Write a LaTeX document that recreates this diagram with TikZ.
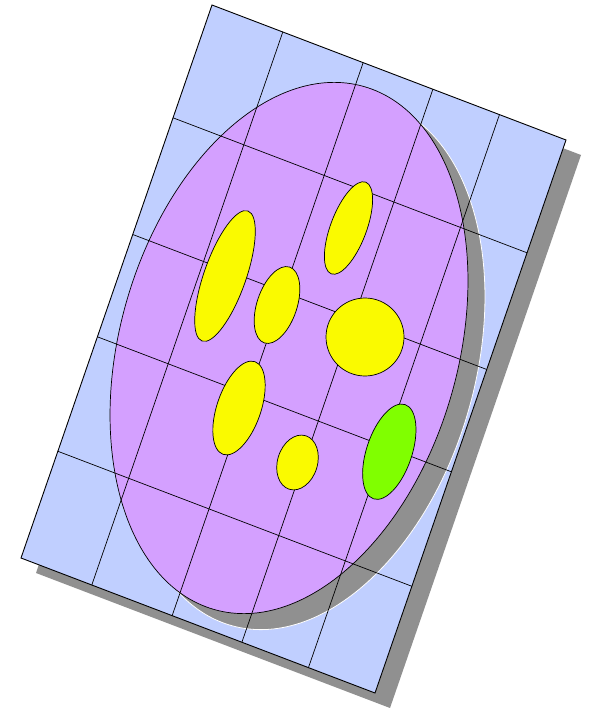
\documentclass[tikz,border=0pt]{standalone}
\usetikzlibrary{calc}
\definecolor{plateblue}{RGB}{192,207,255}
\definecolor{dishpurple}{RGB}{212,160,255}
\definecolor{shadowgray}{RGB}{144,144,144}
\definecolor{yel}{RGB}{250,250,0}
\definecolor{grn}{RGB}{128,255,0}
\begin{document}
\begin{tikzpicture}[x=1pt,y=-1pt,
  gridline/.style={black, line width=0.7pt},
  blob/.style={draw=black, line width=0.7pt, fill=yel}]
\useasboundingbox (0,0) rectangle (588,708);
\coordinate (TL) at (212,5);
\coordinate (TR) at (566,140);
\coordinate (BR) at (375,693);
\coordinate (BL) at (21,558);
% plate shadow
\fill[shadowgray] ($(TL)+(15,15)$) -- ($(TR)+(15,15)$) -- ($(BR)+(15,15)$) -- ($(BL)+(15,15)$) -- cycle;
% plate
\draw[fill=plateblue, line width=0.9pt] (TL) -- (TR) -- (BR) -- (BL) -- cycle;
% dish shadow
\draw[white, fill=shadowgray, line width=0.8pt, rotate around={-16:(306,364)}] (306,364) ellipse [x radius=169pt, y radius=272pt];
% dish
\draw[fill=dishpurple, line width=0.7pt, rotate around={-16:(289,348)}] (289,348) ellipse [x radius=169pt, y radius=272pt];
% grid
\foreach \t in {0.2,0.427,0.624,0.812}
  \draw[gridline] ($(TL)!\t!(TR)$) -- ($(BL)!\t!(BR)$);
\foreach \s in {0.204,0.415,0.6,0.807}
  \draw[gridline] ($(TL)!\s!(BL)$) -- ($(TR)!\s!(BR)$);
% colonies
\draw[blob, rotate around={-19.4:(225,276)}] (225,276) ellipse [x radius=21pt, y radius=69pt];
\draw[blob, rotate around={-18.5:(277,305)}] (277,305) ellipse [x radius=20pt, y radius=40pt];
\draw[blob, rotate around={-20.6:(348.5,228)}] (348.5,228) ellipse [x radius=18pt, y radius=49pt];
\draw[blob] (365,337) circle [radius=39pt];
\draw[blob, rotate around={-18.9:(239,408)}] (239,408) ellipse [x radius=22pt, y radius=49pt];
\draw[blob, rotate around={-17:(297.5,462.5)}] (297.5,462.5) ellipse [x radius=20pt, y radius=28pt];
\draw[blob, fill=grn, rotate around={-18.5:(389.3,451.7)}] (389.3,451.7) ellipse [x radius=22.7pt, y radius=49.7pt];
\end{tikzpicture}
\end{document}
